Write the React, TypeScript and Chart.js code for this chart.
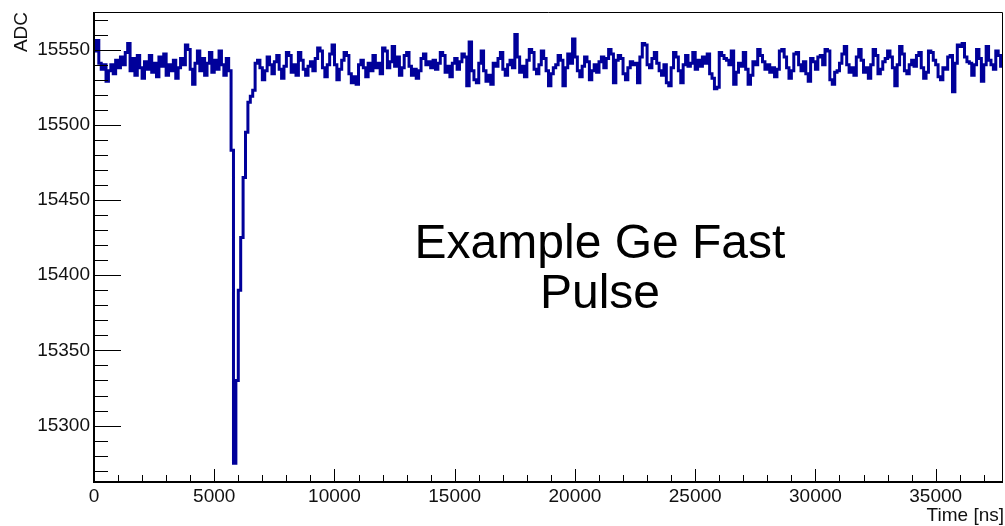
import React, { useEffect, useRef } from "react";
import { Chart, registerables } from "chart.js";

Chart.register(...registerables);

// ---- axis ranges & ticks ----
const BIN_NS = 100;
const X_MIN = 0;
const X_MAX = 37800;
const Y_MIN = 15262.5;
const Y_MAX = 15575;
const xTickValues = [0, 5000, 10000, 15000, 20000, 25000, 30000, 35000];
const yTickValues = [15300, 15350, 15400, 15450, 15500, 15550];

const xTitle = "Time [ns]";
const yTitle = "ADC";
const noteLines = ["Example Ge Fast", "Pulse"];

// ---- ADC samples, one per 100 ns bin ----
const adcPreTrigger = [
  15549, 15556, 15541, 15537, 15540, 15529, 15536, 15540, 15534, 15543,
  15538, 15545, 15540, 15548, 15554, 15536, 15544, 15533, 15546, 15538,
  15531, 15542, 15537, 15546, 15535, 15541, 15532, 15545, 15539, 15547,
  15533, 15540, 15536, 15543, 15531, 15538, 15544, 15540, 15553, 15550,
  15537, 15527, 15541, 15549, 15536, 15544, 15533, 15541, 15548, 15535,
  15543, 15537, 15549, 15540, 15533, 15544, 15536,
];
const adcPulse = [15483, 15275, 15330, 15390, 15425, 15465, 15495, 15515, 15519, 15523];
const adcTailA = [
  15541, 15543, 15538, 15530, 15536, 15545, 15540, 15534, 15542, 15546,
  15537, 15531, 15539, 15548, 15546, 15535, 15540, 15533, 15548, 15543,
  15537, 15533, 15539, 15542, 15536, 15544, 15551, 15549, 15538, 15532,
  15540, 15547, 15553, 15540, 15530, 15537, 15543, 15548, 15546, 15534,
  15528, 15532, 15527, 15540, 15543, 15538, 15532, 15541, 15536, 15546,
  15538, 15541, 15534, 15551, 15549, 15538, 15542, 15552, 15539, 15545,
  15533, 15538,
];
const adcTailB = [
  15546, 15548, 15539, 15533, 15537, 15531, 15536, 15544, 15547, 15540,
  15542, 15538, 15543, 15537, 15541, 15548, 15546, 15535, 15539, 15532,
  15541, 15544, 15537, 15542, 15547, 15545, 15526, 15555, 15536, 15530,
  15528, 15541, 15549, 15536, 15529, 15533, 15527, 15541, 15539, 15544,
  15548, 15537, 15533, 15540, 15543, 15538, 15560, 15545, 15535, 15539,
  15532, 15543, 15550, 15548, 15537, 15534, 15540, 15549, 15544, 15536,
  15526, 15534,
];
const adcTailC = [
  15538, 15540, 15546, 15543, 15526, 15538, 15547, 15541, 15557, 15545,
  15536, 15532, 15539, 15545, 15542, 15530, 15536, 15540, 15535, 15542,
  15545, 15538, 15544, 15550, 15547, 15528, 15543, 15546, 15544, 15534,
  15530, 15538, 15542, 15540, 15541, 15528, 15545, 15554, 15553, 15540,
  15538, 15544, 15548, 15541, 15536, 15533, 15540, 15528, 15526, 15538,
  15548, 15545, 15536, 15528, 15540, 15546, 15539, 15541, 15548, 15537,
  15543, 15539, 15545,
];
const adcTailD = [
  15541, 15547, 15534, 15531, 15524, 15525, 15548, 15546, 15544, 15543,
  15540, 15549, 15527, 15535, 15541, 15539, 15548, 15537, 15527, 15533,
  15542, 15540, 15550, 15546, 15542, 15537, 15540, 15535, 15538, 15532,
  15537, 15549, 15550, 15545, 15538, 15531, 15536, 15547, 15548, 15540,
  15536, 15542, 15534, 15529, 15544, 15542, 15537, 15545, 15546, 15540,
  15550, 15549, 15530, 15527, 15535, 15536, 15541, 15547, 15552, 15540,
  15535, 15538,
];
const adcTailE = [
  15533, 15545, 15550, 15543, 15535, 15538, 15531, 15540, 15550, 15546,
  15534, 15537, 15542, 15544, 15549, 15545, 15538, 15526, 15540, 15552,
  15547, 15536, 15534, 15540, 15543, 15539, 15546, 15548, 15538, 15531,
  15535, 15549, 15548, 15543, 15540, 15532, 15530, 15538, 15537, 15545,
  15546, 15522, 15541, 15553, 15552, 15554, 15545, 15542, 15541, 15533,
  15540, 15550, 15544, 15529, 15540, 15552, 15543, 15540, 15537, 15549,
  15546, 15539,
];

const adcValues = [
  ...adcPreTrigger,
  ...adcPulse,
  ...adcTailA,
  ...adcTailB,
  ...adcTailC,
  ...adcTailD,
  ...adcTailE,
];

const FONT = "'Liberation Sans', Arial, Helvetica, sans-serif";
const LINE_COLOR = "#00009a";

const rootStylePlugin = {
  id: "rootStyle",
  afterDraw(chart: any) {
    const { ctx, chartArea: a, scales } = chart;
    const xs = scales.x;
    const ys = scales.y;
    ctx.save();
    ctx.strokeStyle = "#000";

    // frame (top/right thin)
    ctx.lineWidth = 1;
    ctx.beginPath();
    ctx.moveTo(a.left, a.top + 0.5);
    ctx.lineTo(a.right - 0.5, a.top + 0.5);
    ctx.lineTo(a.right - 0.5, a.bottom);
    ctx.stroke();

    // axis lines
    ctx.lineWidth = 2;
    ctx.beginPath();
    ctx.moveTo(a.left, a.top);
    ctx.lineTo(a.left, a.bottom);
    ctx.lineTo(a.right, a.bottom);
    ctx.stroke();

    // y ticks (inside)
    ctx.lineWidth = 1;
    ctx.beginPath();
    for (let v = Math.ceil(Y_MIN / 10) * 10; v <= Y_MAX; v += 10) {
      const y = Math.round(ys.getPixelForValue(v)) + 0.5;
      const len = v % 50 === 0 ? 27 : 14;
      ctx.moveTo(a.left, y);
      ctx.lineTo(a.left + len, y);
    }
    // x ticks (inside)
    for (let v = X_MIN + 1000; v <= X_MAX; v += 1000) {
      const x = Math.round(xs.getPixelForValue(v)) + 0.5;
      const len = v % 5000 === 0 ? 13 : 7;
      ctx.moveTo(x, a.bottom);
      ctx.lineTo(x, a.bottom - len);
    }
    ctx.stroke();

    // axis titles
    ctx.fillStyle = "#111";
    ctx.font = `19px ${FONT}`;
    ctx.textAlign = "right";
    ctx.textBaseline = "alphabetic";
    ctx.fillText(xTitle, 1004, 521);

    ctx.save();
    ctx.translate(27, 12);
    ctx.rotate(-Math.PI / 2);
    ctx.textAlign = "right";
    ctx.fillText(yTitle, 0, 0);
    ctx.restore();

    // note text
    ctx.fillStyle = "#000";
    ctx.font = `48px ${FONT}`;
    ctx.textAlign = "center";
    ctx.fillText(noteLines[0], 600, 258);
    ctx.fillText(noteLines[1], 600, 308);

    ctx.restore();
  },
};

export default function App() {
  const ref = useRef<HTMLCanvasElement>(null);

  useEffect(() => {
    const points = adcValues.map((v, i) => ({ x: X_MIN + i * BIN_NS, y: v }));
    points.push({ x: X_MIN + adcValues.length * BIN_NS, y: adcValues[adcValues.length - 1] });

    const tickFont = { family: FONT, size: 19 };
    const chart = new Chart(ref.current as HTMLCanvasElement, {
      type: "line",
      data: {
        datasets: [
          {
            data: points,
            borderColor: LINE_COLOR,
            borderWidth: 3,
            pointRadius: 0,
            stepped: true,
            fill: false,
            tension: 0,
          },
        ],
      },
      options: {
        animation: false,
        responsive: true,
        maintainAspectRatio: false,
        events: [],
        layout: { padding: { top: 12, right: 2, left: 0, bottom: 0 } },
        plugins: { legend: { display: false }, tooltip: { enabled: false } },
        scales: {
          x: {
            type: "linear",
            min: X_MIN,
            max: X_MAX,
            grid: { display: false, drawTicks: false },
            border: { display: false },
            ticks: {
              font: tickFont,
              color: "#111",
              padding: 3,
              maxRotation: 0,
              autoSkip: false,
              callback: (v: any) => String(v),
            },
            afterBuildTicks: (s: any) => {
              s.ticks = xTickValues.map((v) => ({ value: v }));
            },
            afterFit: (s: any) => {
              s.height = 44;
              s.paddingLeft = 0;
              s.paddingRight = 0;
            },
          },
          y: {
            type: "linear",
            min: Y_MIN,
            max: Y_MAX,
            grid: { display: false, drawTicks: false },
            border: { display: false },
            ticks: {
              font: tickFont,
              color: "#111",
              padding: 4,
              autoSkip: false,
              callback: (v: any) => String(v),
            },
            afterBuildTicks: (s: any) => {
              s.ticks = yTickValues.map((v) => ({ value: v }));
            },
            afterFit: (s: any) => {
              s.width = 94;
              s.paddingTop = 0;
              s.paddingBottom = 0;
            },
          },
        },
      },
      plugins: [rootStylePlugin],
    } as any);
    return () => chart.destroy();
  }, []);

  return (
    <div style={{ position: "fixed", left: 0, top: 0, width: 1005, height: 526, background: "#fff" }}>
      <canvas ref={ref} />
    </div>
  );
}
